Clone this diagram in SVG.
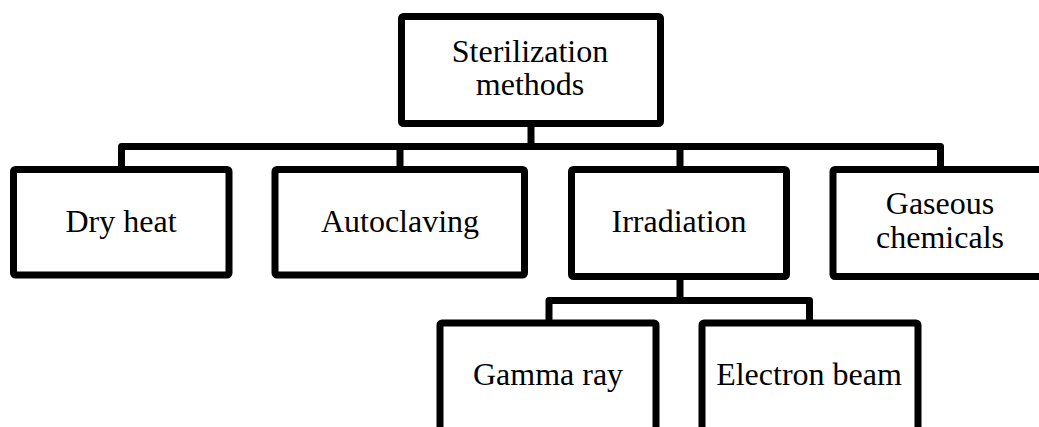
<svg xmlns="http://www.w3.org/2000/svg" width="1039" height="427" viewBox="0 0 1039 427">
<style>
.box{fill:#fff;stroke:#000;stroke-width:7;stroke-linejoin:round}
.conn{fill:none;stroke:#000;stroke-width:7;stroke-linejoin:round;stroke-linecap:butt}
text{font-family:"Liberation Serif","DejaVu Serif",serif;font-size:32px;fill:#000;text-anchor:middle}
</style>
<rect width="1039" height="427" fill="#fff"/>
<g id="connectors">
<path class="conn" d="M531,124 V146.5"/>
<path class="conn" d="M121.5,166 V146.5 H940.5 V166"/>
<path class="conn" d="M400,146.5 V166"/>
<path class="conn" d="M680,146.5 V166"/>
<path class="conn" d="M680,277 V300.5"/>
<path class="conn" d="M549,320 V300.5 H809.5 V320"/>
</g>
<g id="root">
<rect class="box" x="401.5" y="16.5" width="259" height="107" rx="2"/>
<text x="530" y="62">Sterilization</text>
<text x="530" y="95">methods</text>
</g>
<g id="dry-heat">
<rect class="box" x="13.5" y="169.5" width="215.5" height="105.5" rx="2"/>
<text x="121" y="232">Dry heat</text>
</g>
<g id="autoclaving">
<rect class="box" x="275" y="169.5" width="249.5" height="105.5" rx="2"/>
<text x="400" y="232">Autoclaving</text>
</g>
<g id="irradiation">
<rect class="box" x="571.5" y="169.5" width="215" height="107" rx="2"/>
<text x="679" y="232">Irradiation</text>
</g>
<g id="gaseous-chemicals">
<rect class="box" x="833" y="169.5" width="230" height="107" rx="2"/>
<text x="940" y="214">Gaseous</text>
<text x="940" y="248">chemicals</text>
</g>
<g id="gamma-ray">
<rect class="box" x="440" y="323" width="216" height="140" rx="2"/>
<text x="548" y="385">Gamma ray</text>
</g>
<g id="electron-beam">
<rect class="box" x="702" y="323" width="216" height="140" rx="2"/>
<text x="809" y="385">Electron beam</text>
</g>
</svg>
